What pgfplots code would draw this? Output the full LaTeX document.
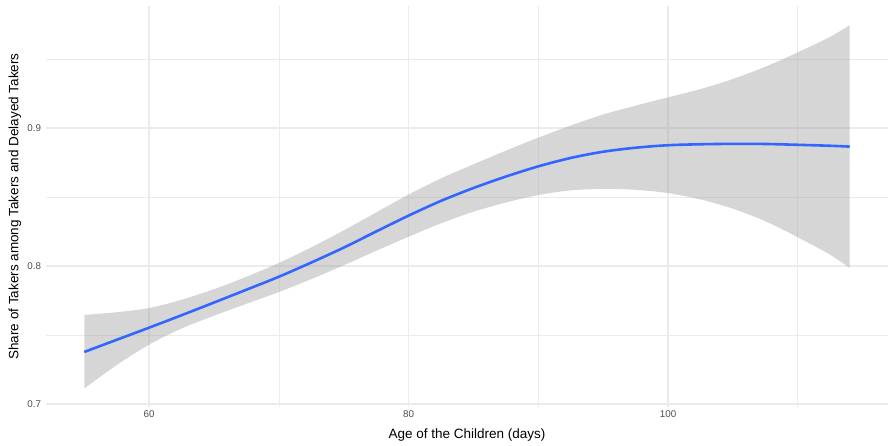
\documentclass[border=0pt]{standalone}
\usepackage{fontspec}
\setmainfont{Liberation Sans}
\usepackage{pgfplots}
\pgfplotsset{compat=1.18}
\usepackage{pgfplotstable}
\usepgfplotslibrary{fillbetween}
\definecolor{smoothblue}{HTML}{3366FF}
\definecolor{gridgray}{HTML}{EBEBEB}
\definecolor{bandgray}{RGB}{153,153,153}
\definecolor{tickgray}{HTML}{4D4D4D}

\pgfplotstableread{
x     m       u       l
55    0.7377  0.7645  0.7112
57.5  0.7465  0.7665  0.7282
60    0.7553  0.7695  0.7430
62.5  0.7643  0.7755  0.7547
65    0.7735  0.7832  0.7640
67.5  0.7828  0.7922  0.7726
70    0.7922  0.8022  0.7811
72.5  0.8025  0.8135  0.7905
75    0.8133  0.8258  0.8005
77.5  0.8250  0.8388  0.8110
80    0.8365  0.8518  0.8212
82.5  0.8472  0.8635  0.8309
85    0.8565  0.8737  0.8393
87.5  0.8648  0.8836  0.8460
90    0.8722  0.8930  0.8514
92.5  0.8783  0.9018  0.8548
95    0.8828  0.9098  0.8558
97.5  0.8857  0.9162  0.8552
100   0.8875  0.9222  0.8528
102.5 0.8882  0.9282  0.8482
105   0.8885  0.9355  0.8415
107.5 0.8884  0.9444  0.8324
110   0.8878  0.9548  0.8208
112.5 0.8871  0.9661  0.8081
114   0.8865  0.9745  0.7985
}\smoothdata

\begin{document}
\begin{tikzpicture}
\path (0,0) rectangle (890pt,445pt);
\begin{axis}[
  at={(46pt,38pt)}, anchor=south west,
  scale only axis, width=842pt, height=401pt,
  xmin=52.05, xmax=116.95, ymin=0.6978, ymax=0.9884,
  axis line style={draw=none},
  major tick length=0pt, minor tick length=0pt,
  xtick={60,80,100}, xticklabels={60,80,100},
  ytick={0.7,0.8,0.9}, yticklabels={0.7,0.8,0.9},
  minor xtick={70,90,110}, minor ytick={0.75,0.85,0.95},
  grid=both,
  major grid style={gridgray, line width=1.5pt},
  minor grid style={gridgray, line width=0.75pt},
  ticklabel style={font=\fontsize{9.8}{11}\selectfont, text=tickgray},
  yticklabel style={xshift=-1.5pt},
  xlabel={Age of the Children (days)},
  ylabel={Share of Takers among Takers and Delayed Takers},
  label style={font=\fontsize{13.5}{15}\selectfont, text=black},
  xlabel style={at={(axis description cs:0.5,-0.0791)}, anchor=base},
  ylabel style={at={(axis description cs:-0.0329,0.5)}, anchor=base},
]
\addplot[name path=U, draw=none, smooth] table[x=x, y=u] {\smoothdata};
\addplot[name path=L, draw=none, smooth] table[x=x, y=l] {\smoothdata};
\addplot[fill=bandgray, fill opacity=0.4, draw=none] fill between[of=U and L];
\addplot[smoothblue, line width=2.6pt, smooth] table[x=x, y=m] {\smoothdata};
\end{axis}
\end{tikzpicture}
\end{document}
